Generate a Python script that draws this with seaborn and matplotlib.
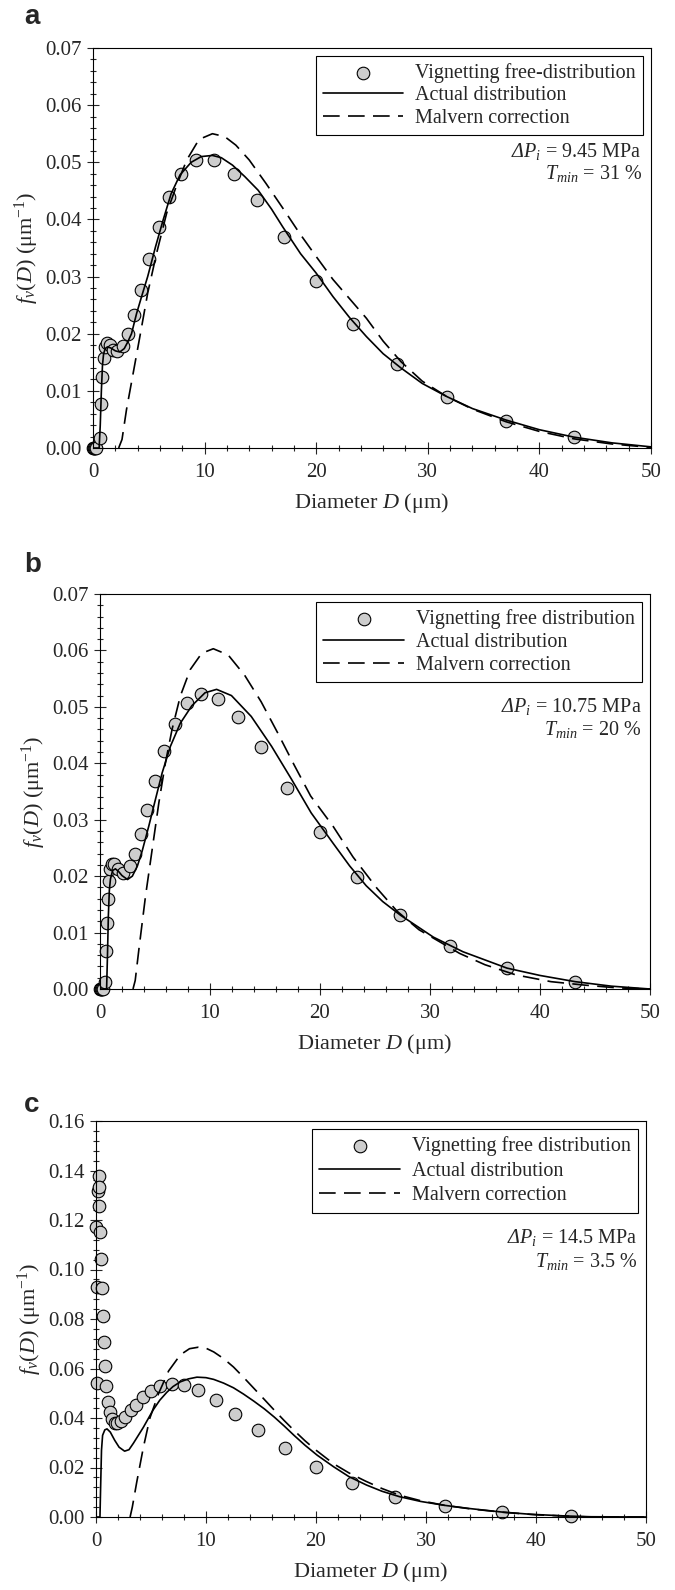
import numpy as np
import pandas as pd
import matplotlib
matplotlib.use("Agg")
import matplotlib.pyplot as plt
from matplotlib.ticker import MultipleLocator, FormatStrFormatter
import seaborn as sns

# ============================================================
# Data (D in um, f in 1/um)
# ============================================================

# --- panel a ---
a_pts_d = [0.0, 0.05, 0.1, 0.2, 0.3, 0.6, 0.72, 0.84, 0.96, 1.04, 1.25, 1.49, 1.79, 2.15,
           2.69, 3.13, 3.67, 4.33, 5.01, 5.88, 6.81, 7.91, 9.25, 10.8, 12.63, 14.69,
           17.1, 19.97, 23.3, 27.2, 31.7, 37.0, 43.1]
a_pts_f = [0.0, 0.0, 0.0, 0.0, 0.0, 0.0017, 0.0077, 0.0124, 0.0157, 0.0176, 0.0183, 0.0181,
           0.0172, 0.0169, 0.0178, 0.0199, 0.0233, 0.0277, 0.0330, 0.0386, 0.0440, 0.0480,
           0.0504, 0.0504, 0.0480, 0.0434, 0.0369, 0.0293, 0.0217, 0.0147, 0.0090, 0.0048,
           0.0020]
a_act_d = [0.0, 0.55, 0.65, 0.75, 0.85, 0.95, 1.1, 1.3, 1.6, 2.0, 2.4, 2.8, 3.1, 3.45, 3.9,
           4.4, 4.9, 5.6, 6.3, 7.0, 7.8, 8.8, 9.7, 10.7, 11.5, 12.5, 13.6, 14.8, 16.0, 17.0,
           18.6, 20.0, 21.5, 23.0, 24.5, 26.0, 27.6, 29.5, 31.7, 34.0, 37.0, 40.0, 43.1,
           46.5, 50.0]
a_act_f = [0.0, 0.0, 0.004, 0.010, 0.0145, 0.0165, 0.0174, 0.0177, 0.0175, 0.0170, 0.0168,
           0.0174, 0.0185, 0.0200, 0.0235, 0.0268, 0.0300, 0.0352, 0.0400, 0.0445, 0.0478,
           0.0500, 0.0510, 0.0512, 0.0508, 0.0495, 0.0475, 0.0451, 0.0418, 0.0387, 0.0340,
           0.0306, 0.0265, 0.0228, 0.0195, 0.0165, 0.0140, 0.0113, 0.0090, 0.0069, 0.0049,
           0.0032, 0.0019, 0.0009, 0.0002]
a_mal_d = [2.3, 2.6, 3.0, 3.6, 4.2, 4.9, 5.7, 6.6, 7.5, 8.4, 9.5, 10.7, 11.8, 12.8, 14.0,
           15.5, 17.0, 18.5, 20.0, 21.5, 23.0, 24.5, 26.0, 27.6, 29.5, 31.7, 34.0, 37.0,
           40.0, 43.1, 46.5, 50.0]
a_mal_f = [0.0, 0.0015, 0.0067, 0.0131, 0.0195, 0.0271, 0.0341, 0.0411, 0.0460, 0.0504,
           0.0540, 0.0550, 0.0545, 0.0530, 0.0504, 0.0463, 0.0420, 0.0376, 0.0335, 0.0295,
           0.0261, 0.0227, 0.0187, 0.0151, 0.0117, 0.0090, 0.0068, 0.0046, 0.0029, 0.0016,
           0.0007, 0.0001]

# --- panel b ---
b_pts_d = [0.0, 0.05, 0.1, 0.2, 0.3, 0.48, 0.51, 0.6, 0.69, 0.78, 0.9, 1.08, 1.29, 1.6,
           2.05, 2.7, 3.18, 3.69, 4.29, 4.98, 5.8, 6.79, 7.9, 9.19, 10.69, 12.5, 14.6, 17.0,
           20.0, 23.4, 27.3, 31.8, 37.0, 43.2]
b_pts_f = [0.0, 0.0, 0.0, 0.0, 0.0, 0.0012, 0.0068, 0.0117, 0.0159, 0.0192, 0.0212, 0.0221,
           0.0222, 0.0213, 0.0206, 0.0218, 0.0240, 0.0274, 0.0317, 0.0368, 0.0422, 0.0470,
           0.0507, 0.0523, 0.0514, 0.0482, 0.0428, 0.0356, 0.0278, 0.0199, 0.0131, 0.0077,
           0.0038, 0.0013]
b_act_d = [0.0, 0.6, 0.68, 0.76, 0.85, 0.95, 1.15, 1.4, 1.7, 2.0, 2.5, 2.94, 3.4, 3.84, 4.44,
           5.04, 5.65, 6.4, 7.3, 8.35, 9.55, 10.6, 11.95, 13.75, 15.6, 17.4, 19.2, 21.2,
           22.7, 24.2, 25.7, 27.3, 30.3, 33.0, 37.0, 40.0, 43.2, 46.5, 50.0]
b_act_f = [0.0, 0.0, 0.006, 0.013, 0.0175, 0.0195, 0.0210, 0.0213, 0.0208, 0.0201, 0.0194,
           0.0200, 0.0218, 0.0245, 0.0289, 0.0336, 0.0383, 0.0430, 0.0471, 0.0502, 0.0525,
           0.0531, 0.0520, 0.0483, 0.0430, 0.0372, 0.0312, 0.0258, 0.0218, 0.0183, 0.0155,
           0.0131, 0.0092, 0.0066, 0.0037, 0.0024, 0.0013, 0.0005, 0.0]
b_mal_d = [3.0, 3.2, 3.54, 4.14, 4.74, 5.35, 5.95, 6.55, 7.3, 8.2, 9.25, 10.3, 11.65, 13.15,
           14.65, 16.15, 17.65, 19.15, 21.2, 23.0, 25.2, 27.0, 29.0, 32.7, 35.0, 37.8, 41.0,
           44.0, 47.0, 50.0]
b_mal_f = [0.0, 0.0015, 0.0071, 0.0165, 0.0247, 0.0330, 0.0401, 0.0460, 0.0519, 0.0566,
           0.0595, 0.0603, 0.0592, 0.0556, 0.0509, 0.0454, 0.0397, 0.0342, 0.0288, 0.0234,
           0.0178, 0.0138, 0.0105, 0.0063, 0.0043, 0.0025, 0.0013, 0.0007, 0.0002, 0.0]

# --- panel c ---
c_pts_d = [0.0, 0.06, 0.06, 0.15, 0.24, 0.30, 0.30, 0.36, 0.43, 0.52, 0.61, 0.70, 0.79,
           0.91, 1.09, 1.28, 1.49, 1.73, 1.95, 2.25, 2.67, 3.16, 3.65, 4.26, 5.0, 5.84, 6.87,
           7.96, 9.3, 10.88, 12.6, 14.7, 17.2, 20.0, 23.3, 27.2, 31.7, 36.9, 43.2]
c_pts_f = [0.1173, 0.0543, 0.0929, 0.1316, 0.1379, 0.1333, 0.1255, 0.1153, 0.1043, 0.0926,
           0.0813, 0.0706, 0.0610, 0.0528, 0.0465, 0.0423, 0.0394, 0.0380, 0.0379, 0.0387,
           0.0404, 0.0433, 0.0454, 0.0485, 0.0511, 0.0528, 0.0536, 0.0532, 0.0513, 0.0474,
           0.0418, 0.0350, 0.0277, 0.0203, 0.0136, 0.0082, 0.0044, 0.0019, 0.0004]
c_act_d = [0.0, 0.36, 0.42, 0.5, 0.6, 0.8, 1.0, 1.3, 1.7, 2.1, 2.6, 3.0, 3.4, 3.85, 4.3, 5.2,
           5.8, 6.44, 7.0, 7.66, 8.4, 9.18, 10.0, 10.7, 11.6, 12.5, 13.4, 14.35, 15.3, 16.2,
           17.1, 18.0, 19.0, 20.1, 21.6, 23.0, 24.6, 26.0, 27.6, 29.5, 31.7, 34.0, 36.9,
           39.5, 42.8, 45.0, 50.0]
c_act_f = [0.0, 0.0, 0.012, 0.027, 0.033, 0.0352, 0.0356, 0.0343, 0.0310, 0.0282, 0.0266,
           0.0272, 0.0298, 0.0330, 0.0362, 0.0433, 0.0472, 0.0504, 0.0527, 0.0546, 0.0558,
           0.0565, 0.0563, 0.0556, 0.0541, 0.0522, 0.0497, 0.0468, 0.0437, 0.0404, 0.0368,
           0.0330, 0.0290, 0.0250, 0.0203, 0.0163, 0.0129, 0.0104, 0.0082, 0.0063, 0.0047,
           0.0034, 0.0020, 0.0011, 0.0004, 0.0001, 0.0]
c_mal_d = [3.1, 3.3, 3.7, 4.3, 4.9, 5.7, 6.6, 7.66, 8.5, 9.3, 10.0, 10.7, 11.6, 12.5, 13.4,
           14.35, 15.3, 16.2, 17.1, 18.0, 19.0, 20.0, 21.6, 23.0, 24.5, 26.0, 27.6, 29.5,
           31.7, 34.0, 37.0, 40.0, 43.0, 45.0, 50.0]
c_mal_f = [0.0, 0.004, 0.014, 0.028, 0.040, 0.050, 0.059, 0.0655, 0.0680, 0.0686, 0.0682,
           0.0667, 0.0640, 0.0606, 0.0565, 0.0520, 0.0475, 0.0432, 0.0390, 0.0350, 0.0308,
           0.0270, 0.0215, 0.0178, 0.0145, 0.0115, 0.0088, 0.0066, 0.0047, 0.0033, 0.0019,
           0.0009, 0.0003, 0.0, 0.0]

LEGEND_LABELS = {
    "a": "Vignetting free-distribution",
    "b": "Vignetting free distribution",
    "c": "Vignetting free distribution",
}
PRESSURE = {"a": "9.45", "b": "10.75", "c": "14.5"}
TMIN = {"a": "31", "b": "20", "c": "3.5"}

# ============================================================
# Style
# ============================================================

sns.set_style("ticks")
plt.rcParams["font.family"] = ["Liberation Serif", "DejaVu Serif"]
plt.rcParams["mathtext.fontset"] = "custom"
plt.rcParams["mathtext.rm"] = "Liberation Serif"
plt.rcParams["mathtext.it"] = "Liberation Serif:italic"
plt.rcParams["mathtext.bf"] = "Liberation Serif:bold"
# italic capital Greek (mathtext forces Greek capitals upright in \mathit)
plt.rcParams["mathtext.sf"] = "Liberation Serif:italic"

MARKER_FILL = "#cdcdcd"

# per panel: legend row spacing, y of the two annotation lines (axes fraction)
PANEL_LAYOUT = {
    "a": {"spacing": 0.16, "dp_y": 0.74, "t_y": 0.685},
    "b": {"spacing": 0.2, "dp_y": 0.714, "t_y": 0.658},
    "c": {"spacing": 0.28, "dp_y": 0.705, "t_y": 0.644},
}


def draw_panel(ax, key, pts_d, pts_f, act_d, act_f, mal_d, mal_f, ymax, ymajor, yminor):
    sns.scatterplot(x=pts_d, y=pts_f, ax=ax, s=82, color=MARKER_FILL, edgecolor="black",
                    linewidth=0.8, zorder=2, clip_on=False, label=LEGEND_LABELS[key])
    sns.lineplot(x=act_d, y=act_f, ax=ax, color="black", linewidth=1.2, estimator=None,
                 sort=False, zorder=3, label="Actual distribution")
    sns.lineplot(x=mal_d, y=mal_f, ax=ax, color="black", linewidth=1.2, estimator=None,
                 sort=False, zorder=3, label="Malvern correction")
    ax.lines[-1].set_dashes([10, 5])

    ax.set_xlim(0, 50)
    ax.set_ylim(0, ymax)
    ax.xaxis.set_major_locator(MultipleLocator(10))
    ax.xaxis.set_minor_locator(MultipleLocator(2))
    ax.yaxis.set_major_locator(MultipleLocator(ymajor))
    ax.yaxis.set_minor_locator(MultipleLocator(yminor))
    ax.yaxis.set_major_formatter(FormatStrFormatter("%.2f"))
    ax.tick_params(which="major", direction="inout", length=8, width=0.8, labelsize=15,
                   top=False, right=False)
    ax.tick_params(axis="x", which="major", pad=7)
    ax.tick_params(axis="y", which="major", pad=4)
    ax.tick_params(which="minor", direction="inout", length=4, width=0.8,
                   top=False, right=False)
    for sp in ax.spines.values():
        sp.set_linewidth(0.8)
        sp.set_color("black")

    ax.set_xlabel(r"Diameter $D$ ($\mathrm{\mu}$m)", fontsize=16, labelpad=6)
    ax.set_ylabel(r"$f_{v}(D)$ ($\mathrm{\mu}$m$^{-1}$)", fontsize=16, labelpad=3)

    lay = PANEL_LAYOUT[key]
    leg = ax.legend(loc="upper right", fontsize=14.5, frameon=True, fancybox=False,
                    edgecolor="black", framealpha=1, handlelength=4.0, handletextpad=0.6,
                    labelspacing=lay["spacing"], borderpad=0.35, borderaxespad=0.4)
    leg.get_frame().set_linewidth(0.8)

    ax.text(0.984, lay["dp_y"], r"$\mathsf{\Delta}\mathit{P}_{\mathit{i}}$ = " + PRESSURE[key] + " MPa",
            transform=ax.transAxes, ha="right", va="center", fontsize=14.5)
    ax.text(0.984, lay["t_y"], r"$\mathit{T}_{\mathit{min}}$ = " + TMIN[key] + " %",
            transform=ax.transAxes, ha="right", va="center", fontsize=14.5)


fig = plt.figure(figsize=(6.75, 15.9), dpi=100)
W, H = 675.0, 1590.0
ax_a = fig.add_axes([93 / W, 1 - 448 / H, 558 / W, 400 / H])
ax_b = fig.add_axes([100 / W, 1 - 989 / H, 550 / W, 395 / H])
ax_c = fig.add_axes([96 / W, 1 - 1517 / H, 550 / W, 396 / H])

draw_panel(ax_a, "a", a_pts_d, a_pts_f, a_act_d, a_act_f, a_mal_d, a_mal_f, 0.07, 0.01, 0.002)
draw_panel(ax_b, "b", b_pts_d, b_pts_f, b_act_d, b_act_f, b_mal_d, b_mal_f, 0.07, 0.01, 0.002)
draw_panel(ax_c, "c", c_pts_d, c_pts_f, c_act_d, c_act_f, c_mal_d, c_mal_f, 0.16, 0.02, 0.004)

for lab, ypx in [("a", 17), ("b", 565), ("c", 1105)]:
    fig.text(24 / W, 1 - ypx / H, lab, fontsize=20, fontweight="bold",
             family="Liberation Sans", va="center", ha="left")

fig.savefig("out.png", dpi=100)
plt.close(fig)
